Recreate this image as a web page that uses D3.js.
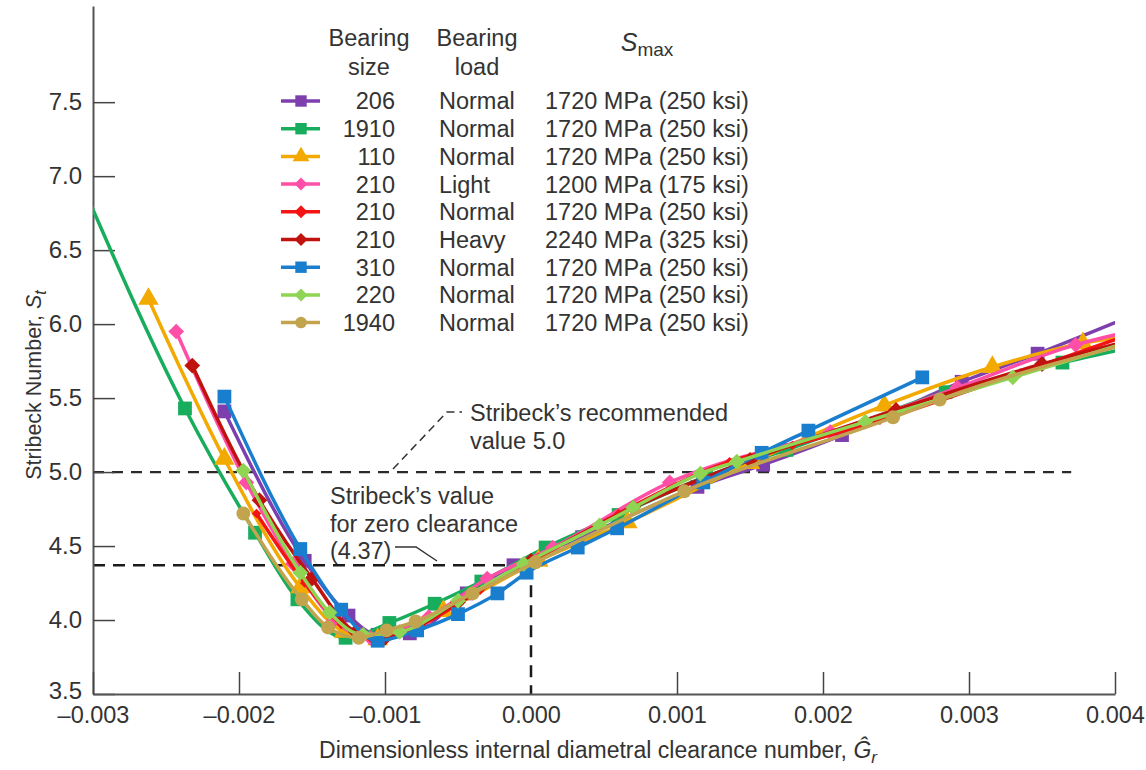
<!DOCTYPE html>
<html>
<head>
<meta charset="utf-8">
<script src="https://cdn.jsdelivr.net/npm/d3@7"></script>
<style>
    body { margin: 0; background: #fff; }
    text { font-family: 'Liberation Sans', Arial, sans-serif; fill: #333; }
</style>
</head>
<body>
<div class="visHolder"></div>
<script>
// clearance number (x) and Stribeck number (y) for each bearing
var g206 = [-0.00210, -0.00155, -0.00125, -0.00105, -0.00083, -0.00044, -0.00012, 0.00035, 0.00114, 0.00159, 0.00213, 0.00295, 0.00347, 0.00410];
var s206 = [5.41, 4.40, 4.03, 3.90, 3.91, 4.18, 4.37, 4.56, 4.90, 5.05, 5.25, 5.61, 5.80, 6.05];

var g1910 = [-0.00310, -0.00237, -0.00189, -0.00160, -0.00127, -0.00097, -0.00066, -0.00034, 0.00010, 0.00060, 0.00120, 0.00175, 0.00284, 0.00364, 0.00410];
var s1910 = [7.00, 5.43, 4.59, 4.14, 3.88, 3.98, 4.11, 4.26, 4.49, 4.71, 4.97, 5.15, 5.54, 5.74, 5.84];

var g110 = [-0.00262, -0.00210, -0.00158, -0.00128, -0.00105, -0.00060, 0.00005, 0.00066, 0.00150, 0.00242, 0.00316, 0.00378, 0.00410];
var s110 = [6.17, 5.09, 4.22, 3.92, 3.87, 4.06, 4.40, 4.66, 5.06, 5.45, 5.71, 5.87, 5.92];

var g210L = [-0.00243, -0.00195, -0.00163, -0.00135, -0.00110, -0.00070, -0.00030, 0.00015, 0.00095, 0.00205, 0.00292, 0.00373, 0.00410];
var s210L = [5.95, 4.93, 4.38, 4.00, 3.88, 4.02, 4.28, 4.49, 4.93, 5.27, 5.57, 5.86, 5.95];

var g210N = [-0.00188, -0.00155, -0.00130, -0.00110, -0.00075, -0.00035, 0.00005, 0.00060, 0.00136, 0.00179, 0.00239, 0.00335, 0.00410];
var s210N = [4.72, 4.25, 3.97, 3.88, 3.97, 4.20, 4.42, 4.72, 5.07, 5.18, 5.35, 5.67, 5.93];

var g210H = [-0.00232, -0.00186, -0.00150, -0.00120, -0.00100, -0.00050, 0.00000, 0.00070, 0.00150, 0.00250, 0.00350, 0.00410];
var s210H = [5.72, 4.81, 4.28, 3.92, 3.88, 4.12, 4.40, 4.76, 5.08, 5.42, 5.73, 5.89];

var g310 = [-0.00210, -0.00158, -0.00130, -0.00105, -0.00078, -0.00050, -0.00023, -0.00003, 0.00032, 0.00059, 0.00118, 0.00158, 0.00190, 0.00268];
var s310 = [5.51, 4.48, 4.07, 3.86, 3.93, 4.04, 4.18, 4.32, 4.49, 4.62, 4.93, 5.13, 5.28, 5.64];

var g220 = [-0.00197, -0.00158, -0.00138, -0.00115, -0.00090, -0.00050, -0.00005, 0.00047, 0.00070, 0.00116, 0.00141, 0.00229, 0.00330, 0.00410];
var s220 = [5.01, 4.32, 4.05, 3.90, 3.92, 4.13, 4.38, 4.64, 4.76, 4.99, 5.07, 5.34, 5.64, 5.88];

var g1940 = [-0.00197, -0.00157, -0.00139, -0.00118, -0.00099, -0.00079, -0.00040, 0.00003, 0.00105, 0.00248, 0.00280, 0.00410];
var s1940 = [4.72, 4.14, 3.95, 3.88, 3.93, 3.99, 4.18, 4.39, 4.87, 5.37, 5.49, 5.87];

// legend table
var sizes = ['206', '1910', '110', '210', '210', '210', '310', '220', '1940'];
var loads = ['Normal', 'Normal', 'Normal', 'Light', 'Normal', 'Heavy', 'Normal', 'Normal', 'Normal'];
var smaxLabels = ['1720 MPa (250 ksi)', '1720 MPa (250 ksi)', '1720 MPa (250 ksi)', '1200 MPa (175 ksi)',
    '1720 MPa (250 ksi)', '2240 MPa (325 ksi)', '1720 MPa (250 ksi)', '1720 MPa (250 ksi)', '1720 MPa (250 ksi)'];
var colors = ['#7d3fae', '#17ad5c', '#f2a900', '#ff4fa6', '#f41414', '#c0120e', '#1a7ecf', '#8fd553', '#c2a44e'];
var shapes = ['square', 'square', 'triangle', 'diamond', 'diamond', 'diamond', 'square', 'diamond', 'circle'];

var xTicks = [-0.003, -0.002, -0.001, 0.000, 0.001, 0.002, 0.003, 0.004];
var yTicks = [3.5, 4.0, 4.5, 5.0, 5.5, 6.0, 6.5, 7.0, 7.5];
var recommended = 5.0,
    zeroClearance = 4.37;

var gAll = [g206, g1910, g110, g210L, g210N, g210H, g310, g220, g1940];
var sAll = [s206, s1910, s110, s210L, s210N, s210H, s310, s220, s1940];

var width = 1146,
    height = 770,
    fontSize = '23.5px';

var svg = d3
    .select('.visHolder')
    .append('svg')
    .attr('width', width)
    .attr('height', height);

var x = d3.scaleLinear().domain([-0.003, 0.004]).range([93, 1115]);
var y = d3.scaleLinear().domain([3.5, 8.15]).range([694, 6]);

svg.append('clipPath')
    .attr('id', 'plotclip')
    .append('rect')
    .attr('x', x(-0.003))
    .attr('y', 0)
    .attr('width', x(0.004) - x(-0.003))
    .attr('height', y(3.5));

// symbol path for a marker
function marker(shape, size) {
    if (shape === 'triangle') return d3.symbol().type(d3.symbolTriangle).size(size * 0.95)();
    if (shape === 'circle') return d3.symbol().type(d3.symbolCircle).size(size * 0.8)();
    return d3.symbol().type(d3.symbolSquare).size(shape === 'diamond' ? size * 0.65 : size)();
}

// Reference lines
svg.append('line')
    .attr('x1', x(-0.003)).attr('x2', x(0.0037))
    .attr('y1', y(recommended)).attr('y2', y(recommended))
    .style('stroke', '#2a2a2a').style('stroke-width', 2.2)
    .style('stroke-dasharray', '11,8');

svg.append('line')
    .attr('x1', x(-0.003)).attr('x2', x(0))
    .attr('y1', y(zeroClearance)).attr('y2', y(zeroClearance))
    .style('stroke', '#1a1a1a').style('stroke-width', 2.5)
    .style('stroke-dasharray', '12,8');

svg.append('line')
    .attr('x1', x(0)).attr('x2', x(0))
    .attr('y1', y(zeroClearance)).attr('y2', y(3.5))
    .style('stroke', '#1a1a1a').style('stroke-width', 2.5)
    .style('stroke-dasharray', '12,8');

// Axes
var yAxis = d3.axisLeft(y)
    .tickValues(yTicks)
    .tickFormat(d3.format('.1f'))
    .tickSizeInner(-22)
    .tickSizeOuter(0)
    .tickPadding(11);

var yg = svg.append('g')
    .attr('transform', 'translate(' + x(-0.003) + ',0)')
    .call(yAxis);

var xAxis = d3.axisBottom(x)
    .tickValues(xTicks)
    .tickFormat(function (d) {
        return (d < 0 ? '\u2013' : '') + Math.abs(d).toFixed(3);
    })
    .tickSizeInner(-22)
    .tickSizeOuter(0)
    .tickPadding(12);

var xg = svg.append('g')
    .attr('transform', 'translate(0,' + y(3.5) + ')')
    .call(xAxis);

[yg, xg].forEach(function (g) {
    g.select('.domain').style('stroke', '#555').style('stroke-width', 2);
    g.selectAll('.tick line').style('stroke', '#444').style('stroke-width', 1.5);
    g.selectAll('.tick text')
        .style('font-family', "'Liberation Sans', Arial, sans-serif")
        .style('font-size', fontSize)
        .style('fill', '#333');
});
yg.selectAll('.tick text').style('font-size', '24px');
// lift the bottom label off the x tick labels
yg.selectAll('.tick').filter(function (d) { return d === 3.5; }).select('text').attr('dy', '0.2em');
// the zero tick is covered by the dashed line
xg.selectAll('.tick').filter(function (d) { return d === 0; }).select('line').remove();

// Axis titles
var yTitle = svg.append('text')
    .attr('transform', 'translate(41,' + 385 + ') rotate(-90)')
    .attr('text-anchor', 'middle')
    .style('font-size', '21.5px');
yTitle.append('tspan').text('Stribeck Number, ');
yTitle.append('tspan').style('font-style', 'italic').text('S');
yTitle.append('tspan').style('font-style', 'italic').style('font-size', '16px').attr('dy', 5).text('t');

var xTitle = svg.append('text')
    .attr('x', 598)
    .attr('y', 758)
    .attr('text-anchor', 'middle')
    .style('font-size', '23px');
xTitle.append('tspan').text('Dimensionless internal diametral clearance number, ');
xTitle.append('tspan').style('font-style', 'italic').text('\u011C');
xTitle.append('tspan').style('font-style', 'italic').style('font-size', '17px').attr('dy', 5).text('r');

// Curves
var line = d3.line()
    .x(function (d) { return x(d[0]); })
    .y(function (d) { return y(d[1]); })
    .curve(d3.curveMonotoneX);

var plot = svg.append('g').attr('clip-path', 'url(#plotclip)');

gAll.forEach(function (gs, i) {
    var pts = gs.map(function (g, j) { return [g, sAll[i][j]]; });
    plot.append('path')
        .datum(pts)
        .attr('d', line)
        .style('fill', 'none')
        .style('stroke', colors[i])
        .style('stroke-width', 3.5)
        .style('stroke-linejoin', 'round');

    var msize = i === 4 ? 70 : 190;
    plot.selectAll('.m' + i)
        .data(pts)
        .enter()
        .append('path')
        .attr('class', 'm' + i)
        .attr('d', marker(shapes[i], msize))
        .attr('transform', function (d) {
            return 'translate(' + x(d[0]) + ',' + y(d[1]) + ')' + (shapes[i] === 'diamond' ? ' rotate(45)' : '');
        })
        .style('fill', colors[i]);
});

// Legend
var legendTop = 101,
    rowGap = 27.7;

svg.append('text').attr('x', 369).attr('y', 46).attr('text-anchor', 'middle').style('font-size', fontSize).text('Bearing');
svg.append('text').attr('x', 369).attr('y', 75).attr('text-anchor', 'middle').style('font-size', fontSize).text('size');
svg.append('text').attr('x', 477).attr('y', 46).attr('text-anchor', 'middle').style('font-size', fontSize).text('Bearing');
svg.append('text').attr('x', 477).attr('y', 75).attr('text-anchor', 'middle').style('font-size', fontSize).text('load');
var smaxHead = svg.append('text').attr('x', 647).attr('y', 51).attr('text-anchor', 'middle').style('font-size', '25px');
smaxHead.append('tspan').style('font-style', 'italic').text('S');
smaxHead.append('tspan').style('font-size', '19px').attr('dy', 5).text('max');

var rows = svg.selectAll('.legendRow')
    .data(sizes)
    .enter()
    .append('g')
    .attr('class', 'legendRow')
    .attr('transform', function (d, i) { return 'translate(0,' + (legendTop + i * rowGap) + ')'; });

rows.append('line')
    .attr('x1', 281).attr('x2', 320)
    .style('stroke', function (d, i) { return colors[i]; })
    .style('stroke-width', 3.5);

rows.append('path')
    .attr('d', function (d, i) { return marker(shapes[i], 130); })
    .attr('transform', function (d, i) { return 'translate(301,0)' + (shapes[i] === 'diamond' ? ' rotate(45)' : ''); })
    .style('fill', function (d, i) { return colors[i]; });

rows.append('text')
    .attr('x', 395).attr('dy', '0.36em')
    .attr('text-anchor', 'end')
    .style('font-size', fontSize)
    .text(function (d) { return d; });

rows.append('text')
    .attr('x', 439).attr('dy', '0.36em')
    .style('font-size', fontSize)
    .text(function (d, i) { return loads[i]; });

rows.append('text')
    .attr('x', 545).attr('dy', '0.36em')
    .style('font-size', fontSize)
    .text(function (d, i) { return smaxLabels[i]; });

// Annotations
svg.append('path')
    .attr('d', 'M393,469 L447,412 L462,412')
    .style('fill', 'none').style('stroke', '#333').style('stroke-width', 1.5)
    .style('stroke-dasharray', '8,5');
svg.append('text').attr('x', 470).attr('y', 421).style('font-size', fontSize).text('Stribeck\u2019s recommended');
svg.append('text').attr('x', 470).attr('y', 449).style('font-size', fontSize).text('value 5.0');

svg.append('path')
    .attr('d', 'M395,547 L416,547 L437,561')
    .style('fill', 'none').style('stroke', '#333').style('stroke-width', 1.5);
svg.append('text').attr('x', 330).attr('y', 504).style('font-size', fontSize).text('Stribeck\u2019s value');
svg.append('text').attr('x', 330).attr('y', 532).style('font-size', fontSize).text('for zero clearance');
svg.append('text').attr('x', 330).attr('y', 559).style('font-size', fontSize).text('(4.37)');
</script>
</body>
</html>
